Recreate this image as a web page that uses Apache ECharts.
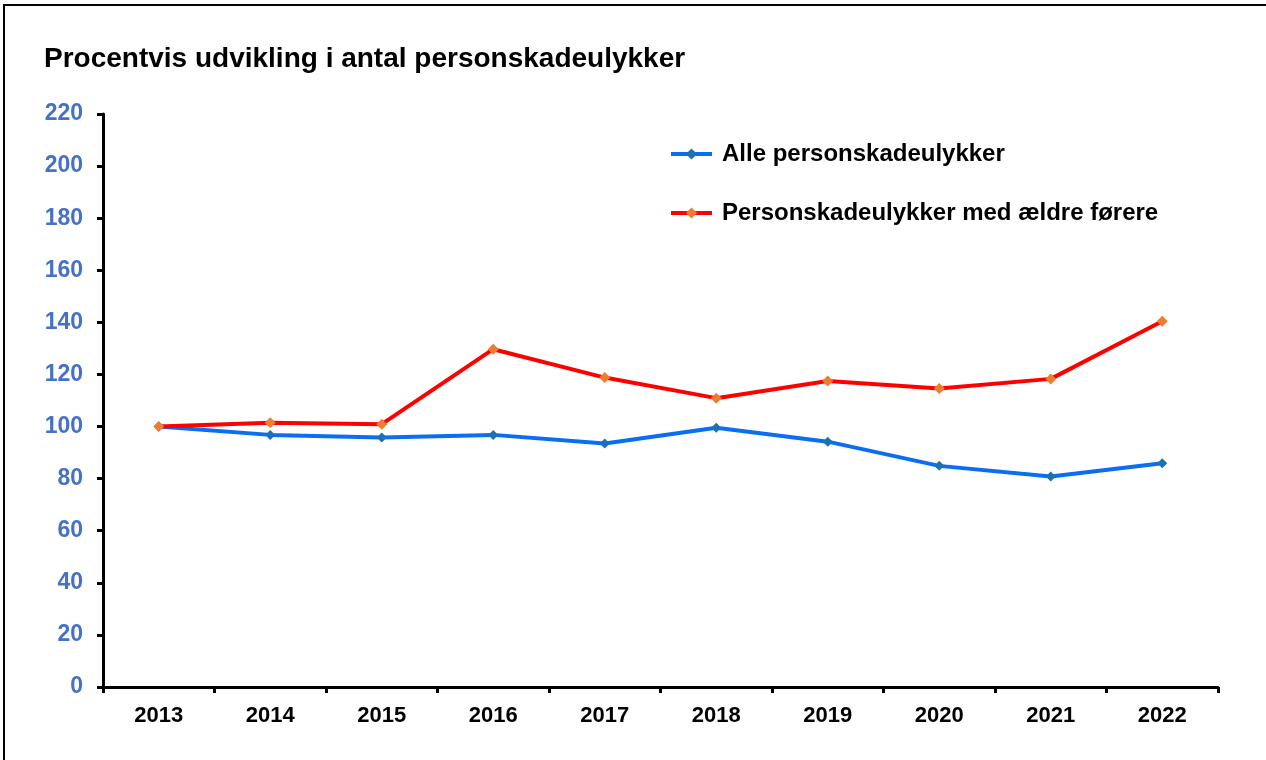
<!DOCTYPE html>
<html lang="da">
<head>
    <meta charset="UTF-8">
    <title>Procentvis udvikling i antal personskadeulykker</title>
    <script src="https://cdn.jsdelivr.net/npm/echarts@6/dist/echarts.min.js"></script>
    <style>
        html, body {
            margin: 0;
            padding: 0;
            background: #fff;
        }
        #chart {
            width: 1266px;
            height: 760px;
        }
    </style>
</head>
<body>
    <div id="chart"></div>
    <script>
        // data
        const years = ['2013', '2014', '2015', '2016', '2017', '2018', '2019', '2020', '2021', '2022'];
        const alle = [100, 96.8, 95.8, 96.8, 93.5, 99.5, 94.2, 84.9, 80.8, 85.9];
        const aeldre = [100, 101.5, 100.9, 129.7, 118.8, 110.9, 117.5, 114.6, 118.3, 140.4];
        const seriesNames = ['Alle personskadeulykker', 'Personskadeulykker med ældre førere'];

        const font = '"Liberation Sans", Arial, sans-serif';
        const chart = echarts.init(document.getElementById('chart'));

        chart.setOption({
            animation: false,
            // outer frame, only top and left edges fall inside the picture
            graphic: [{
                type: 'rect',
                shape: { x: 4, y: 5, width: 1300, height: 800 },
                style: { fill: 'none', stroke: '#000', lineWidth: 2 },
                silent: true
            }],
            title: {
                text: 'Procentvis udvikling i antal personskadeulykker',
                left: 39,
                top: 40,
                textStyle: { fontFamily: font, fontSize: 28, fontWeight: 'bold', color: '#000' }
            },
            legend: {
                orient: 'vertical',
                left: 669,
                top: 142,
                padding: 0,
                itemWidth: 41,
                itemHeight: 14,
                itemGap: 35,
                lineStyle: { width: 4 },
                textStyle: {
                    fontFamily: font, fontSize: 24, fontWeight: 'bold', color: '#000',
                    padding: [0, 0, 0, 5]
                },
                data: seriesNames
            },
            grid: { left: 103, right: 48, top: 114, bottom: 73, containLabel: false },
            xAxis: {
                type: 'category',
                data: years,
                boundaryGap: true,
                axisLine: { lineStyle: { color: '#000', width: 3 } },
                axisTick: { show: true, length: 6, lineStyle: { color: '#000', width: 3 } },
                axisLabel: { margin: 18, fontFamily: font, fontSize: 22, fontWeight: 'bold', color: '#000' },
                splitLine: { show: false }
            },
            yAxis: {
                type: 'value',
                min: 0,
                max: 220,
                interval: 20,
                axisLine: { show: true, lineStyle: { color: '#000', width: 3 } },
                axisTick: { show: true, length: 6, lineStyle: { color: '#000', width: 3 } },
                axisLabel: { margin: 20, fontFamily: font, fontSize: 23, fontWeight: 'bold', color: '#4472C4' },
                splitLine: { show: false }
            },
            series: [
                {
                    name: seriesNames[0],
                    type: 'line',
                    data: alle,
                    symbol: 'diamond',
                    symbolSize: 10,
                    lineStyle: { color: '#0A6EF2', width: 4 },
                    itemStyle: { color: '#1C72B0' },
                    z: 2
                },
                {
                    name: seriesNames[1],
                    type: 'line',
                    data: aeldre,
                    symbol: 'diamond',
                    symbolSize: 11,
                    lineStyle: { color: '#FF0000', width: 4 },
                    itemStyle: { color: '#ED7D31' },
                    z: 3
                }
            ]
        });
    </script>
</body>
</html>
